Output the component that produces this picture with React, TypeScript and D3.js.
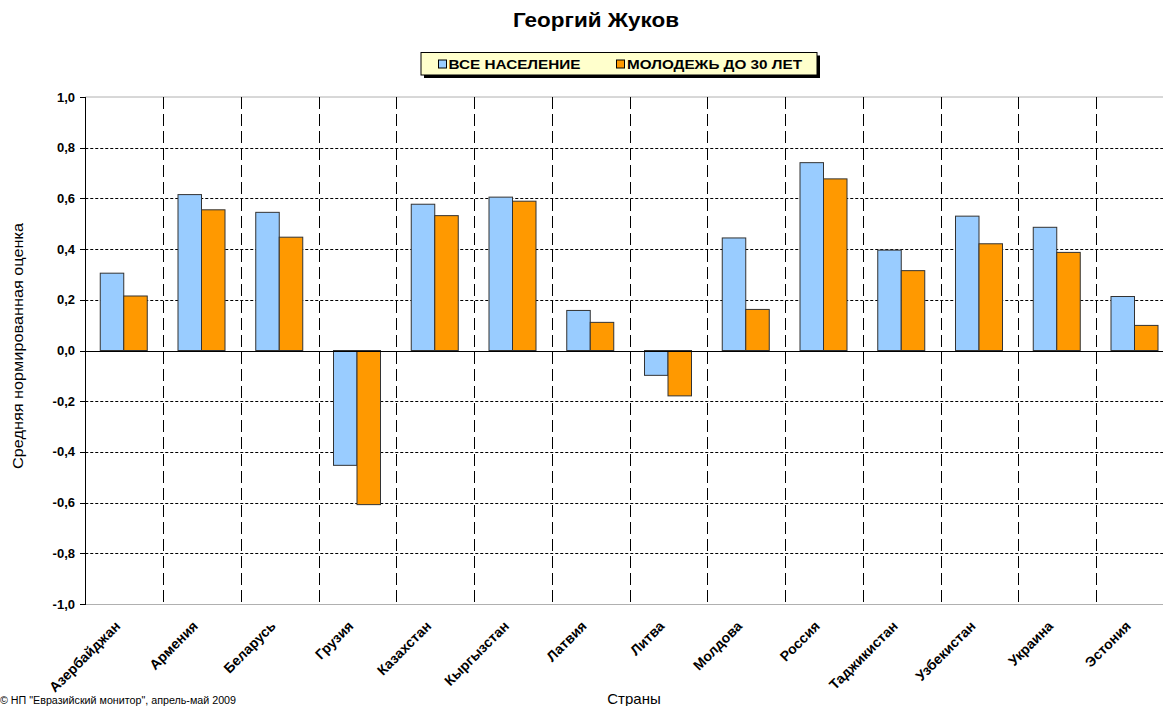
import React from "react";
import * as d3 from "d3";

const title = "Георгий Жуков";
const countries = [
  "Азербайджан", "Армения", "Беларусь", "Грузия", "Казахстан", "Кыргызстан", "Латвия",
  "Литва", "Молдова", "Россия", "Таджикистан", "Узбекистан", "Украина", "Эстония",
];
const seriesNames = ["ВСЕ НАСЕЛЕНИЕ", "МОЛОДЕЖЬ ДО 30 ЛЕТ"];
const allPopulation = [0.305, 0.615, 0.545, -0.453, 0.577, 0.605, 0.158, -0.098, 0.444, 0.741, 0.396, 0.530, 0.486, 0.213];
const youthUnder30 = [0.215, 0.555, 0.447, -0.608, 0.532, 0.589, 0.111, -0.179, 0.162, 0.677, 0.315, 0.421, 0.387, 0.099];
const yTicks = [1.0, 0.8, 0.6, 0.4, 0.2, 0.0, -0.2, -0.4, -0.6, -0.8, -1.0];
const yAxisTitle = "Средняя нормированная оценка";
const xAxisTitle = "Страны";
const copyright = "© НП \"Евразийский монитор\", апрель-май 2009";

const W = 1163;
const H = 706;
const FONT = "'Liberation Sans', Arial, sans-serif";
const colors = ["#99CCFF", "#FF9900"];

export default function App() {
  const left = 85.25;
  const band = 77.75;
  const x = d3.scaleBand<string>().domain(countries).range([left, left + band * countries.length]).padding(0);
  const y = d3.scaleLinear().domain([-1, 1]).range([604, 97]);
  const inner = d3.scaleBand<number>().domain([0, 1]).range([15, 62]).padding(0);
  const series = [allPopulation, youthUnder30];
  const fmt = (v: number) => d3.format(".1f")(v).replace(".", ",").replace("−", "-");
  const plotRight = left + band * countries.length;

  return (
    <svg width={W} height={H} style={{ position: "absolute", left: 0, top: 0, background: "#fff" }} fontFamily={FONT}>
      <rect x={0} y={0} width={W} height={H} fill="#fff" />
      <text x={596} y={27} textAnchor="middle" fontSize={21} fontWeight="bold" textLength={166} lengthAdjust="spacingAndGlyphs">{title}</text>

      {/* legend */}
      <rect x={424} y={55.5} width={396} height={22.5} fill="#000" />
      <rect x={421} y={52.5} width={396} height={22.5} fill="#FFFFCC" stroke="#000" strokeWidth={1} />
      {seriesNames.map((s, i) => {
        const sx = i === 0 ? 438.5 : 616.5;
        const tx = i === 0 ? 448.5 : 627;
        const tl = i === 0 ? 132 : 175;
        return (
          <g key={s}>
            <rect x={sx} y={60} width={8} height={8} fill={colors[i]} stroke="#000" strokeWidth={1} />
            <text x={tx} y={69} fontSize={13.5} fontWeight="bold" textLength={tl} lengthAdjust="spacingAndGlyphs">{s}</text>
          </g>
        );
      })}

      {/* plot border */}
      <line x1={left} x2={plotRight} y1={97} y2={97} stroke="#b0b0b0" />
      <line x1={left} x2={plotRight} y1={604.5} y2={604.5} stroke="#b0b0b0" />

      {/* horizontal gridlines */}
      {yTicks.filter((t) => t !== 0 && Math.abs(t) !== 1).map((t) => (
        <line key={"h" + t} x1={left} x2={plotRight} y1={Math.round(y(t)) + 0.5} y2={Math.round(y(t)) + 0.5}
          stroke="#000" strokeDasharray="3,2" strokeWidth={1} />
      ))}
      {/* vertical gridlines */}
      {countries.slice(1).map((c) => (
        <line key={"v" + c} x1={Math.round(x(c)!) + 0.5} x2={Math.round(x(c)!) + 0.5} y1={97} y2={604}
          stroke="#000" strokeDasharray="12,5" strokeWidth={1} />
      ))}

      {/* bars */}
      {series.map((vals, si) =>
        vals.map((v, ci) => {
          const bx = x(countries[ci])! + inner(si)!;
          const y0 = y(0);
          const y1 = y(v);
          return (
            <rect key={si + "-" + ci} x={bx} y={Math.min(y0, y1)} width={inner.bandwidth()} height={Math.abs(y1 - y0)}
              fill={colors[si]} stroke="#333" strokeWidth={1} />
          );
        })
      )}

      {/* zero line */}
      <line x1={left} x2={plotRight} y1={Math.round(y(0)) + 0.5} y2={Math.round(y(0)) + 0.5} stroke="#000" strokeWidth={1} />
      {/* y axis */}
      <line x1={85.5} x2={85.5} y1={97} y2={604.5} stroke="#000" strokeWidth={1} />
      {yTicks.map((t) => (
        <g key={"t" + t}>
          <line x1={80} x2={86} y1={Math.round(y(t)) + 0.5} y2={Math.round(y(t)) + 0.5} stroke="#000" />
          <text x={75} y={y(t) + 4.5} textAnchor="end" fontSize={13} fontWeight="bold">{fmt(t)}</text>
        </g>
      ))}

      {/* x labels */}
      {countries.map((c) => {
        const cx = x(c)! + band / 2;
        return (
          <text key={"x" + c} transform={`translate(${cx - 3},${627}) rotate(-45)`} textAnchor="end" fontSize={14} fontWeight="bold">{c}</text>
        );
      })}

      <text transform={`translate(23,346) rotate(-90)`} textAnchor="middle" fontSize={15} textLength={246} lengthAdjust="spacingAndGlyphs">{yAxisTitle}</text>
      <text x={634} y={704} textAnchor="middle" fontSize={15}>{xAxisTitle}</text>
      <text x={0} y={704} fontSize={10} textLength={236} lengthAdjust="spacingAndGlyphs">{copyright}</text>
    </svg>
  );
}
